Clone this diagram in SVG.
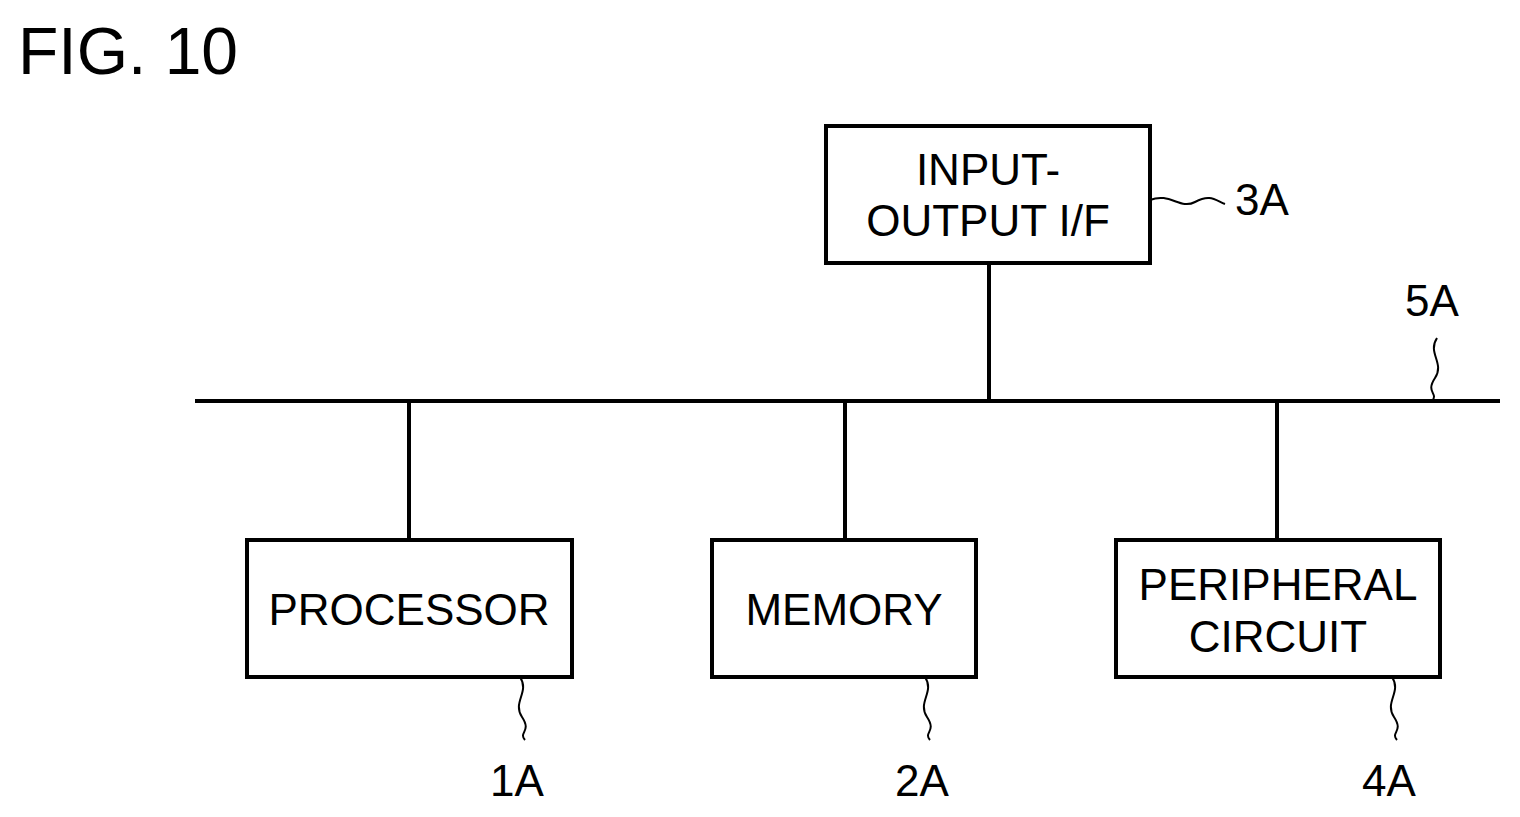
<svg xmlns="http://www.w3.org/2000/svg" width="1520" height="817" viewBox="0 0 1520 817">
<style>
.b{fill:#fff;stroke:#000;stroke-width:4}
.l{fill:none;stroke:#000;stroke-width:4}
.s{fill:none;stroke:#000;stroke-width:2}
text{font-family:"Liberation Sans",Arial,sans-serif;font-size:44px;fill:#000}
.c{text-anchor:middle}
</style>
<rect width="1520" height="817" fill="#fff"/>
<text x="18" y="74" style="font-size:66px">FIG. 10</text>
<g id="connectors">
<path class="l" d="M195 401H1500M989 263V401M409 401V540M845 401V540M1277 401V540"/>
<path class="s" d="M1150 200c20-8 30 10 45 2s20-2 30 2"/>
<path class="s" d="M1437 338c-10 15 8 25-2 40s4 15-3 23"/>
<path class="s" d="M520 677c10 15-8 25 2 40s-4 15 3 23"/>
<path class="s" d="M925 677c10 15-8 25 2 40s-4 15 3 23"/>
<path class="s" d="M1392 677c10 15-8 25 2 40s-4 15 3 23"/>
</g>
<g id="n3A"><rect class="b" x="826" y="126" width="324" height="137"/>
<text class="c" x="988" y="185">INPUT-</text><text class="c" x="988" y="236">OUTPUT I/F</text>
<text x="1235" y="215">3A</text></g>
<g id="n5A"><text x="1405" y="316">5A</text></g>
<g id="n1A"><rect class="b" x="247" y="540" width="325" height="137"/>
<text class="c" x="409" y="625">PROCESSOR</text><text x="490" y="796">1A</text></g>
<g id="n2A"><rect class="b" x="712" y="540" width="264" height="137"/>
<text class="c" x="844" y="625">MEMORY</text><text x="895" y="796">2A</text></g>
<g id="n4A"><rect class="b" x="1116" y="540" width="324" height="137"/>
<text class="c" x="1278" y="600">PERIPHERAL</text><text class="c" x="1278" y="652">CIRCUIT</text><text x="1362" y="796">4A</text></g>
</svg>
